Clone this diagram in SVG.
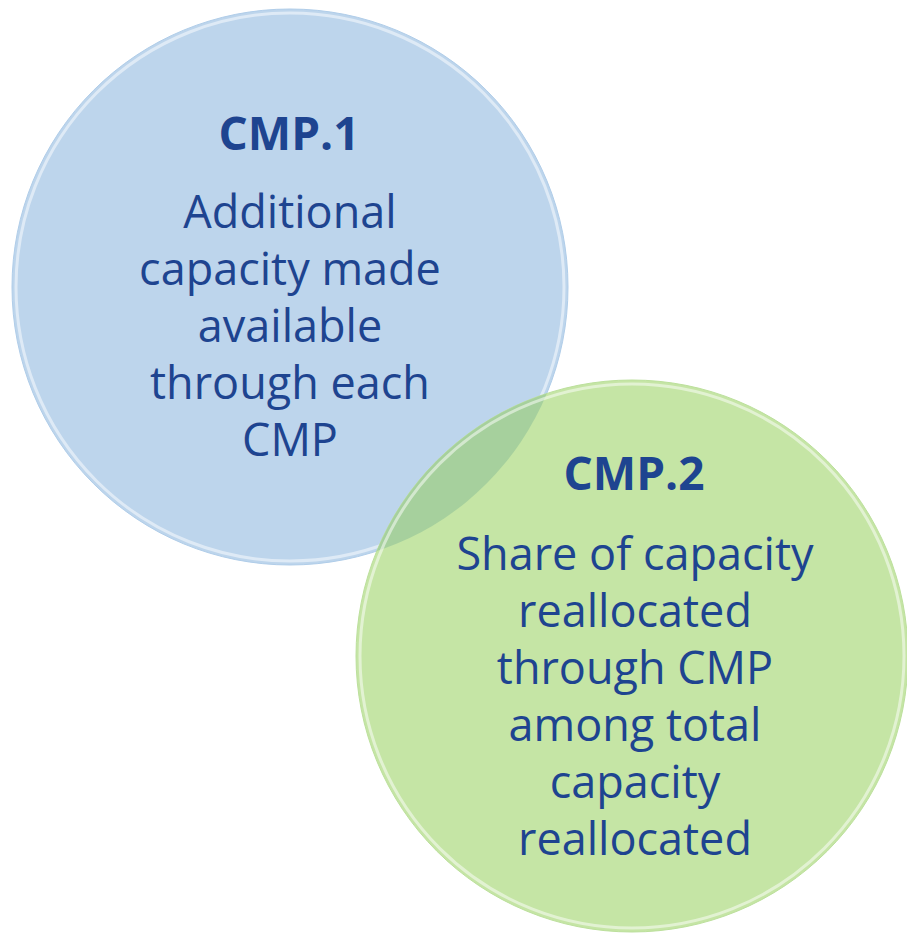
<svg xmlns="http://www.w3.org/2000/svg" width="907" height="933" viewBox="0 0 907 933">
<style>
.t{font-family:"Open Sans","Noto Sans","DejaVu Sans",sans-serif;fill:#1E4490;text-anchor:middle;font-size:45px}
.h{font-weight:bold;font-size:46px}
.rim{fill:none;stroke:#FFFFFF;stroke-opacity:0.5;stroke-width:3}
</style>
<defs>
<clipPath id="c2clip"><circle cx="632" cy="656" r="276"/></clipPath>
</defs>
<g id="cmp1">
<circle cx="290" cy="287" r="278" fill="#BDD5EC" stroke="#B0CDE9" stroke-width="1"/>
<circle class="rim" cx="290" cy="287" r="274"/>
</g>
<g id="cmp2">
<circle cx="632" cy="656" r="276" fill="#C5E5A5" stroke="#BCE09C" stroke-width="1"/>
<circle cx="290" cy="287" r="278" fill="#A6D09D" clip-path="url(#c2clip)"/>
<circle class="rim" cx="632" cy="656" r="272"/>
</g>
<g id="text1">
<text class="t h" x="289" y="150">CMP.1</text>
<text class="t" x="290" y="228">Additional</text>
<text class="t" x="290" y="285">capacity made</text>
<text class="t" x="290" y="342">available</text>
<text class="t" x="290" y="399">through each</text>
<text class="t" x="290" y="456">CMP</text>
</g>
<g id="text2">
<text class="t h" x="634" y="490">CMP.2</text>
<text class="t" x="635" y="570">Share of capacity</text>
<text class="t" x="635" y="627">reallocated</text>
<text class="t" x="635" y="684">through CMP</text>
<text class="t" x="635" y="741">among total</text>
<text class="t" x="635" y="798">capacity</text>
<text class="t" x="635" y="855">reallocated</text>
</g>
</svg>
